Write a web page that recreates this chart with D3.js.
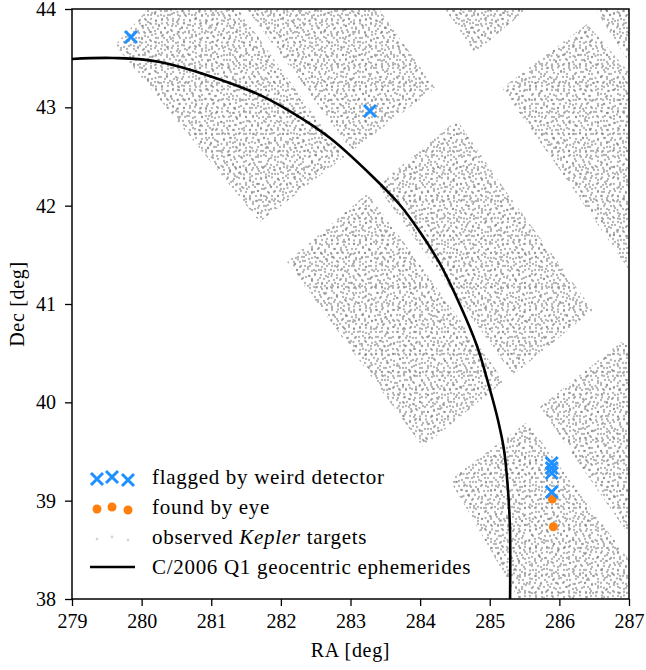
<!DOCTYPE html>
<html>
<head>
<meta charset="utf-8">
<script src="https://cdn.jsdelivr.net/npm/d3@7"></script>
<style>
  body { margin: 0; background: #fff; }
</style>
</head>
<body>
<svg id="chart" width="646" height="670"></svg>
<script>
// ---- values ----
const raTicks = [279, 280, 281, 282, 283, 284, 285, 286, 287];
const decTicks = [38, 39, 40, 41, 42, 43, 44];

// C/2006 Q1 geocentric ephemerides
const ephemRA  = [279.0, 279.589, 280.264, 281.600, 282.174, 282.706, 283.309, 283.711, 283.998, 284.286, 284.573, 284.817, 284.989, 285.118, 285.205, 285.262, 285.291, 285.291];
const ephemDec = [43.492, 43.502, 43.461, 43.156, 42.942, 42.688, 42.302, 42.007, 41.732, 41.407, 40.990, 40.573, 40.166, 39.820, 39.515, 39.108, 38.702, 37.95];

// flagged by weird detector
const flaggedRA  = [279.847, 283.280, 285.890, 285.890, 285.890, 285.890];
const flaggedDec = [43.715, 42.963, 39.383, 39.332, 39.281, 39.088];

// found by eye
const eyeRA  = [285.899, 285.913];
const eyeDec = [39.017, 38.735];

// outlines of the Kepler CCD footprints holding the observed targets
const ccdRA = [
  [279.618, 280.092, 281.384, 282.907, 281.700],
  [281.513, 283.409, 284.214, 283.022],
  [284.357, 285.535, 284.788],
  [285.176, 286.397, 287.0, 287.158, 286.109],
  [286.512, 287.0, 287.0],
  [282.088, 283.251, 285.205, 284.041],
  [283.381, 284.530, 285.219, 286.483, 285.334],
  [284.429, 285.535, 287.0, 287.158, 285.506],
  [285.722, 286.885, 287.158, 287.158]
];
const ccdDec = [
  [43.634, 44.0, 44.0, 42.495, 41.834],
  [44.0, 44.0, 43.197, 42.556],
  [44.0, 44.0, 43.553],
  [43.197, 43.847, 43.359, 41.183, 42.261],
  [44.0, 44.0, 43.461],
  [41.427, 42.129, 40.217, 39.546],
  [42.200, 42.871, 42.159, 40.939, 40.278],
  [39.210, 39.800, 38.396, 37.888, 37.888],
  [39.952, 40.613, 40.512, 38.488]
];

const legendLabels = ["flagged by weird detector", "found by eye", "observed Kepler targets", "C/2006 Q1 geocentric ephemerides"];

// ---- layout ----
const svg = d3.select("#chart");
const M = {left: 72, right: 629, top: 9, bottom: 599};
const blue = "#1e90ff", orange = "#ff7f0e";
const serif = "'Liberation Serif', 'Times New Roman', serif";

const x = d3.scaleLinear().domain([279, 287]).range([M.left, M.right]);
const y = d3.scaleLinear().domain([38, 44]).range([M.bottom, M.top]);

// speckle tiles (three sizes so the repeat is not obvious)
const speckles = [
  {id: "speckA", size: 22, dots: [[2,2],[8,1.5],[14,3],[19,2],[4,7],[11,6],[17,8],[1.5,12],[7,11],[13,11],[20,13],[4,16],[10,16],[16,15],[19,19],[2,20.5],[8,20],[14,20]]},
  {id: "speckB", size: 17, dots: [[3,4],[9,2],[14,6],[6,9],[12,11],[2,14],[8,15],[15,15]]},
  {id: "speckC", size: 29, dots: [[5,3],[18,6],[26,10],[10,13],[22,18],[3,22],[14,25],[27,26],[8,27.5]]}
];

const defs = svg.append("defs");
defs.append("clipPath").attr("id", "plot-clip")
  .append("rect").attr("x", M.left).attr("y", M.top)
  .attr("width", M.right - M.left).attr("height", M.bottom - M.top);

speckles.forEach(s => {
  let p = defs.append("pattern").attr("id", s.id)
    .attr("patternUnits", "userSpaceOnUse")
    .attr("width", s.size).attr("height", s.size);
  p.selectAll("circle").data(s.dots).enter().append("circle")
    .attr("cx", d => d[0]).attr("cy", d => d[1]).attr("r", 1.15)
    .attr("fill", "#808080").attr("fill-opacity", 0.6);
});

const plot = svg.append("g").attr("clip-path", "url(#plot-clip)");

const ccds = ccdRA.map((ras, i) => ras.map((r, j) => [x(r), y(ccdDec[i][j])]));
speckles.forEach(s => {
  plot.append("g").selectAll("path").data(ccds).enter().append("path")
    .attr("d", d => "M" + d.join("L") + "Z")
    .attr("fill", "url(#" + s.id + ")");
});

// ephemeris line
const lineGen = d3.line().x(d => x(d[0])).y(d => y(d[1])).curve(d3.curveCatmullRom.alpha(0.5));
plot.append("path")
  .attr("d", lineGen(ephemRA.map((r, i) => [r, ephemDec[i]])))
  .attr("fill", "none").attr("stroke", "#000").attr("stroke-width", 2.6);

// markers
function xMark(s) {
  return "M" + (-s) + "," + (-s) + "L" + s + "," + s + "M" + (-s) + "," + s + "L" + s + "," + (-s);
}
plot.append("g").selectAll("circle").data(eyeRA).enter().append("circle")
  .attr("cx", d => x(d)).attr("cy", (d, i) => y(eyeDec[i])).attr("r", 4.5)
  .attr("fill", orange);
plot.append("g").selectAll("path").data(flaggedRA).enter().append("path")
  .attr("transform", (d, i) => "translate(" + x(d) + "," + y(flaggedDec[i]) + ")")
  .attr("d", xMark(6)).attr("stroke", blue).attr("stroke-width", 3).attr("fill", "none");

// axes
const xAxis = d3.axisBottom(x).tickValues(raTicks).tickSize(7).tickPadding(8).tickFormat(d3.format("d"));
const yAxis = d3.axisLeft(y).tickValues(decTicks).tickSize(7).tickPadding(9).tickFormat(d3.format("d"));
const gx = svg.append("g").attr("transform", "translate(0," + M.bottom + ")").call(xAxis);
const gy = svg.append("g").attr("transform", "translate(" + M.left + ",0)").call(yAxis);
[gx, gy].forEach(g => {
  g.attr("font-family", null).attr("font-size", null);
  g.select(".domain").remove();
  g.selectAll(".tick line").attr("stroke", "#000").attr("stroke-width", 1.3);
  g.selectAll(".tick text").style("font-family", serif).style("font-size", "20px");
});

svg.append("rect").attr("x", M.left).attr("y", M.top)
  .attr("width", M.right - M.left).attr("height", M.bottom - M.top)
  .attr("fill", "none").attr("stroke", "#000").attr("stroke-width", 1.5);

svg.append("text").attr("x", (M.left + M.right) / 2).attr("y", 657)
  .attr("text-anchor", "middle")
  .style("font-family", serif).style("font-size", "20px").style("letter-spacing", "0.7px")
  .text("RA [deg]");
svg.append("text")
  .attr("transform", "translate(24," + ((M.top + M.bottom) / 2) + ")rotate(-90)")
  .attr("text-anchor", "middle")
  .style("font-family", serif).style("font-size", "20px").style("letter-spacing", "0.7px")
  .text("Dec [deg]");

// legend
const leg = svg.append("g").attr("transform", "translate(90,478)");
const swatchX = [7, 22, 38];
const swatchDy = [1, -1, 2];
leg.selectAll("path.flag").data(swatchX).enter().append("path")
  .attr("transform", (d, i) => "translate(" + d + "," + swatchDy[i] + ")")
  .attr("d", xMark(6)).attr("stroke", blue).attr("stroke-width", 3).attr("fill", "none");
leg.selectAll("circle.eye").data(swatchX).enter().append("circle")
  .attr("cx", d => d).attr("cy", (d, i) => 30 + swatchDy[i]).attr("r", 4.5).attr("fill", orange);
leg.selectAll("circle.kep").data(swatchX).enter().append("circle")
  .attr("cx", d => d).attr("cy", (d, i) => 60 + swatchDy[i]).attr("r", 1.4).attr("fill", "#d6d6d6");
leg.append("line").attr("x1", 0).attr("x2", 45).attr("y1", 89).attr("y2", 89)
  .attr("stroke", "#000").attr("stroke-width", 2.6);

legendLabels.forEach((lab, i) => {
  let t = leg.append("text").attr("x", 62).attr("y", 6 + i * 30)
    .style("font-family", serif).style("font-size", "21px").style("letter-spacing", "0.7px");
  if (lab.indexOf("Kepler") >= 0) {
    let parts = lab.split("Kepler");
    t.append("tspan").text(parts[0]);
    t.append("tspan").style("font-style", "italic").text("Kepler");
    t.append("tspan").text(parts[1]);
  } else {
    t.text(lab);
  }
});
</script>
</body>
</html>
